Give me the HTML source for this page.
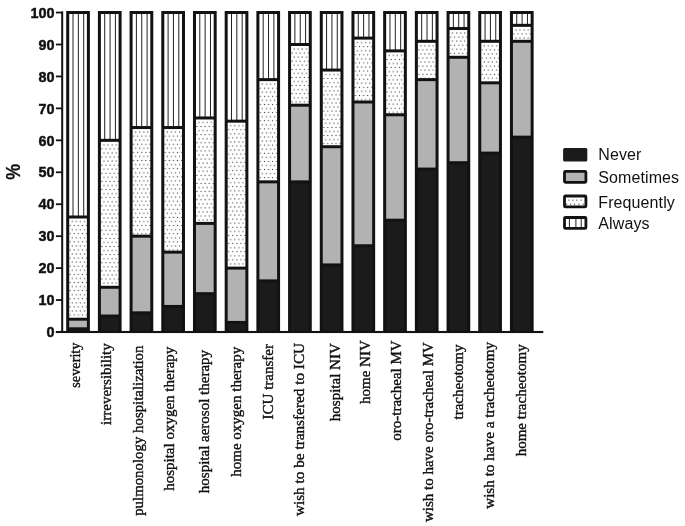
<!DOCTYPE html>
<html><head><meta charset="utf-8"><style>
html,body{margin:0;padding:0;background:#fff;}
body{width:685px;height:526px;overflow:hidden;}
svg{display:block;filter:grayscale(1);}
.yl{font-family:"Liberation Sans",sans-serif;font-weight:bold;font-size:15px;text-anchor:end;fill:#111;stroke:#111;stroke-width:0.45px;}
.xl{font-family:"Liberation Serif",serif;font-size:15px;text-anchor:middle;fill:#111;stroke:#111;stroke-width:0.4px;}
.pct{font-family:"Liberation Sans",sans-serif;font-weight:bold;font-size:21px;text-anchor:middle;fill:#111;stroke:#111;stroke-width:0.3px;}
.lg{font-family:"Liberation Sans",sans-serif;font-size:16px;fill:#111;letter-spacing:0.1px;}
</style></head><body>
<svg width="685" height="526" viewBox="0 0 685 526">
<defs><pattern id="d0" patternUnits="userSpaceOnUse" width="8.2" height="8.132" patternTransform="translate(78.35,221.5)"><rect x="1.525" y="-0.525" width="1.05" height="1.05" fill="#2a2a2a"/><rect x="5.625" y="-0.525" width="1.05" height="1.05" fill="#2a2a2a"/><rect x="1.525" y="7.607" width="1.05" height="1.05" fill="#2a2a2a"/><rect x="5.625" y="7.607" width="1.05" height="1.05" fill="#2a2a2a"/><rect x="-0.525" y="3.541" width="1.05" height="1.05" fill="#2a2a2a"/><rect x="7.675" y="3.541" width="1.05" height="1.05" fill="#2a2a2a"/><rect x="3.575" y="3.541" width="1.05" height="1.05" fill="#2a2a2a"/></pattern><pattern id="d1" patternUnits="userSpaceOnUse" width="8.2" height="8.132" patternTransform="translate(110.05,144.83)"><rect x="1.525" y="-0.525" width="1.05" height="1.05" fill="#2a2a2a"/><rect x="5.625" y="-0.525" width="1.05" height="1.05" fill="#2a2a2a"/><rect x="1.525" y="7.607" width="1.05" height="1.05" fill="#2a2a2a"/><rect x="5.625" y="7.607" width="1.05" height="1.05" fill="#2a2a2a"/><rect x="-0.525" y="3.541" width="1.05" height="1.05" fill="#2a2a2a"/><rect x="7.675" y="3.541" width="1.05" height="1.05" fill="#2a2a2a"/><rect x="3.575" y="3.541" width="1.05" height="1.05" fill="#2a2a2a"/></pattern><pattern id="d2" patternUnits="userSpaceOnUse" width="8.2" height="8.132" patternTransform="translate(141.74,132.05)"><rect x="1.525" y="-0.525" width="1.05" height="1.05" fill="#2a2a2a"/><rect x="5.625" y="-0.525" width="1.05" height="1.05" fill="#2a2a2a"/><rect x="1.525" y="7.607" width="1.05" height="1.05" fill="#2a2a2a"/><rect x="5.625" y="7.607" width="1.05" height="1.05" fill="#2a2a2a"/><rect x="-0.525" y="3.541" width="1.05" height="1.05" fill="#2a2a2a"/><rect x="7.675" y="3.541" width="1.05" height="1.05" fill="#2a2a2a"/><rect x="3.575" y="3.541" width="1.05" height="1.05" fill="#2a2a2a"/></pattern><pattern id="d3" patternUnits="userSpaceOnUse" width="8.2" height="8.132" patternTransform="translate(173.44,132.05)"><rect x="1.525" y="-0.525" width="1.05" height="1.05" fill="#2a2a2a"/><rect x="5.625" y="-0.525" width="1.05" height="1.05" fill="#2a2a2a"/><rect x="1.525" y="7.607" width="1.05" height="1.05" fill="#2a2a2a"/><rect x="5.625" y="7.607" width="1.05" height="1.05" fill="#2a2a2a"/><rect x="-0.525" y="3.541" width="1.05" height="1.05" fill="#2a2a2a"/><rect x="7.675" y="3.541" width="1.05" height="1.05" fill="#2a2a2a"/><rect x="3.575" y="3.541" width="1.05" height="1.05" fill="#2a2a2a"/></pattern><pattern id="d4" patternUnits="userSpaceOnUse" width="8.2" height="8.132" patternTransform="translate(205.13,122.47)"><rect x="1.525" y="-0.525" width="1.05" height="1.05" fill="#2a2a2a"/><rect x="5.625" y="-0.525" width="1.05" height="1.05" fill="#2a2a2a"/><rect x="1.525" y="7.607" width="1.05" height="1.05" fill="#2a2a2a"/><rect x="5.625" y="7.607" width="1.05" height="1.05" fill="#2a2a2a"/><rect x="-0.525" y="3.541" width="1.05" height="1.05" fill="#2a2a2a"/><rect x="7.675" y="3.541" width="1.05" height="1.05" fill="#2a2a2a"/><rect x="3.575" y="3.541" width="1.05" height="1.05" fill="#2a2a2a"/></pattern><pattern id="d5" patternUnits="userSpaceOnUse" width="8.2" height="8.132" patternTransform="translate(236.83,125.66)"><rect x="1.525" y="-0.525" width="1.05" height="1.05" fill="#2a2a2a"/><rect x="5.625" y="-0.525" width="1.05" height="1.05" fill="#2a2a2a"/><rect x="1.525" y="7.607" width="1.05" height="1.05" fill="#2a2a2a"/><rect x="5.625" y="7.607" width="1.05" height="1.05" fill="#2a2a2a"/><rect x="-0.525" y="3.541" width="1.05" height="1.05" fill="#2a2a2a"/><rect x="7.675" y="3.541" width="1.05" height="1.05" fill="#2a2a2a"/><rect x="3.575" y="3.541" width="1.05" height="1.05" fill="#2a2a2a"/></pattern><pattern id="d6" patternUnits="userSpaceOnUse" width="8.2" height="8.132" patternTransform="translate(268.53,84.13)"><rect x="1.525" y="-0.525" width="1.05" height="1.05" fill="#2a2a2a"/><rect x="5.625" y="-0.525" width="1.05" height="1.05" fill="#2a2a2a"/><rect x="1.525" y="7.607" width="1.05" height="1.05" fill="#2a2a2a"/><rect x="5.625" y="7.607" width="1.05" height="1.05" fill="#2a2a2a"/><rect x="-0.525" y="3.541" width="1.05" height="1.05" fill="#2a2a2a"/><rect x="7.675" y="3.541" width="1.05" height="1.05" fill="#2a2a2a"/><rect x="3.575" y="3.541" width="1.05" height="1.05" fill="#2a2a2a"/></pattern><pattern id="d7" patternUnits="userSpaceOnUse" width="8.2" height="8.132" patternTransform="translate(300.22,49)"><rect x="1.525" y="-0.525" width="1.05" height="1.05" fill="#2a2a2a"/><rect x="5.625" y="-0.525" width="1.05" height="1.05" fill="#2a2a2a"/><rect x="1.525" y="7.607" width="1.05" height="1.05" fill="#2a2a2a"/><rect x="5.625" y="7.607" width="1.05" height="1.05" fill="#2a2a2a"/><rect x="-0.525" y="3.541" width="1.05" height="1.05" fill="#2a2a2a"/><rect x="7.675" y="3.541" width="1.05" height="1.05" fill="#2a2a2a"/><rect x="3.575" y="3.541" width="1.05" height="1.05" fill="#2a2a2a"/></pattern><pattern id="d8" patternUnits="userSpaceOnUse" width="8.2" height="8.132" patternTransform="translate(331.92,74.55)"><rect x="1.525" y="-0.525" width="1.05" height="1.05" fill="#2a2a2a"/><rect x="5.625" y="-0.525" width="1.05" height="1.05" fill="#2a2a2a"/><rect x="1.525" y="7.607" width="1.05" height="1.05" fill="#2a2a2a"/><rect x="5.625" y="7.607" width="1.05" height="1.05" fill="#2a2a2a"/><rect x="-0.525" y="3.541" width="1.05" height="1.05" fill="#2a2a2a"/><rect x="7.675" y="3.541" width="1.05" height="1.05" fill="#2a2a2a"/><rect x="3.575" y="3.541" width="1.05" height="1.05" fill="#2a2a2a"/></pattern><pattern id="d9" patternUnits="userSpaceOnUse" width="8.2" height="8.132" patternTransform="translate(363.61,42.61)"><rect x="1.525" y="-0.525" width="1.05" height="1.05" fill="#2a2a2a"/><rect x="5.625" y="-0.525" width="1.05" height="1.05" fill="#2a2a2a"/><rect x="1.525" y="7.607" width="1.05" height="1.05" fill="#2a2a2a"/><rect x="5.625" y="7.607" width="1.05" height="1.05" fill="#2a2a2a"/><rect x="-0.525" y="3.541" width="1.05" height="1.05" fill="#2a2a2a"/><rect x="7.675" y="3.541" width="1.05" height="1.05" fill="#2a2a2a"/><rect x="3.575" y="3.541" width="1.05" height="1.05" fill="#2a2a2a"/></pattern><pattern id="d10" patternUnits="userSpaceOnUse" width="8.2" height="8.132" patternTransform="translate(395.31,55.38)"><rect x="1.525" y="-0.525" width="1.05" height="1.05" fill="#2a2a2a"/><rect x="5.625" y="-0.525" width="1.05" height="1.05" fill="#2a2a2a"/><rect x="1.525" y="7.607" width="1.05" height="1.05" fill="#2a2a2a"/><rect x="5.625" y="7.607" width="1.05" height="1.05" fill="#2a2a2a"/><rect x="-0.525" y="3.541" width="1.05" height="1.05" fill="#2a2a2a"/><rect x="7.675" y="3.541" width="1.05" height="1.05" fill="#2a2a2a"/><rect x="3.575" y="3.541" width="1.05" height="1.05" fill="#2a2a2a"/></pattern><pattern id="d11" patternUnits="userSpaceOnUse" width="8.2" height="8.132" patternTransform="translate(427.01,45.8)"><rect x="1.525" y="-0.525" width="1.05" height="1.05" fill="#2a2a2a"/><rect x="5.625" y="-0.525" width="1.05" height="1.05" fill="#2a2a2a"/><rect x="1.525" y="7.607" width="1.05" height="1.05" fill="#2a2a2a"/><rect x="5.625" y="7.607" width="1.05" height="1.05" fill="#2a2a2a"/><rect x="-0.525" y="3.541" width="1.05" height="1.05" fill="#2a2a2a"/><rect x="7.675" y="3.541" width="1.05" height="1.05" fill="#2a2a2a"/><rect x="3.575" y="3.541" width="1.05" height="1.05" fill="#2a2a2a"/></pattern><pattern id="d12" patternUnits="userSpaceOnUse" width="8.2" height="8.132" patternTransform="translate(458.7,33.02)"><rect x="1.525" y="-0.525" width="1.05" height="1.05" fill="#2a2a2a"/><rect x="5.625" y="-0.525" width="1.05" height="1.05" fill="#2a2a2a"/><rect x="1.525" y="7.607" width="1.05" height="1.05" fill="#2a2a2a"/><rect x="5.625" y="7.607" width="1.05" height="1.05" fill="#2a2a2a"/><rect x="-0.525" y="3.541" width="1.05" height="1.05" fill="#2a2a2a"/><rect x="7.675" y="3.541" width="1.05" height="1.05" fill="#2a2a2a"/><rect x="3.575" y="3.541" width="1.05" height="1.05" fill="#2a2a2a"/></pattern><pattern id="d13" patternUnits="userSpaceOnUse" width="8.2" height="8.132" patternTransform="translate(490.4,45.8)"><rect x="1.525" y="-0.525" width="1.05" height="1.05" fill="#2a2a2a"/><rect x="5.625" y="-0.525" width="1.05" height="1.05" fill="#2a2a2a"/><rect x="1.525" y="7.607" width="1.05" height="1.05" fill="#2a2a2a"/><rect x="5.625" y="7.607" width="1.05" height="1.05" fill="#2a2a2a"/><rect x="-0.525" y="3.541" width="1.05" height="1.05" fill="#2a2a2a"/><rect x="7.675" y="3.541" width="1.05" height="1.05" fill="#2a2a2a"/><rect x="3.575" y="3.541" width="1.05" height="1.05" fill="#2a2a2a"/></pattern><pattern id="d14" patternUnits="userSpaceOnUse" width="8.2" height="8.132" patternTransform="translate(522.09,29.83)"><rect x="1.525" y="-0.525" width="1.05" height="1.05" fill="#2a2a2a"/><rect x="5.625" y="-0.525" width="1.05" height="1.05" fill="#2a2a2a"/><rect x="1.525" y="7.607" width="1.05" height="1.05" fill="#2a2a2a"/><rect x="5.625" y="7.607" width="1.05" height="1.05" fill="#2a2a2a"/><rect x="-0.525" y="3.541" width="1.05" height="1.05" fill="#2a2a2a"/><rect x="7.675" y="3.541" width="1.05" height="1.05" fill="#2a2a2a"/><rect x="3.575" y="3.541" width="1.05" height="1.05" fill="#2a2a2a"/></pattern></defs>
<rect width="685" height="526" fill="#fff"/>
<rect x="61.2" y="11.4" width="2" height="321.6" fill="#121212"/>
<rect x="55.9" y="331.1" width="6.5" height="1.8" fill="#121212"/>
<text transform="translate(54.6,337.2) scale(0.96,1)" class="yl">0</text>
<rect x="55.9" y="299.16" width="6.5" height="1.8" fill="#121212"/>
<text transform="translate(54.6,305.25) scale(0.96,1)" class="yl">10</text>
<rect x="55.9" y="267.21" width="6.5" height="1.8" fill="#121212"/>
<text transform="translate(54.6,273.31) scale(0.96,1)" class="yl">20</text>
<rect x="55.9" y="235.27" width="6.5" height="1.8" fill="#121212"/>
<text transform="translate(54.6,241.37) scale(0.96,1)" class="yl">30</text>
<rect x="55.9" y="203.32" width="6.5" height="1.8" fill="#121212"/>
<text transform="translate(54.6,209.42) scale(0.96,1)" class="yl">40</text>
<rect x="55.9" y="171.38" width="6.5" height="1.8" fill="#121212"/>
<text transform="translate(54.6,177.47) scale(0.96,1)" class="yl">50</text>
<rect x="55.9" y="139.43" width="6.5" height="1.8" fill="#121212"/>
<text transform="translate(54.6,145.53) scale(0.96,1)" class="yl">60</text>
<rect x="55.9" y="107.48" width="6.5" height="1.8" fill="#121212"/>
<text transform="translate(54.6,113.58) scale(0.96,1)" class="yl">70</text>
<rect x="55.9" y="75.54" width="6.5" height="1.8" fill="#121212"/>
<text transform="translate(54.6,81.64) scale(0.96,1)" class="yl">80</text>
<rect x="55.9" y="43.6" width="6.5" height="1.8" fill="#121212"/>
<text transform="translate(54.6,49.7) scale(0.96,1)" class="yl">90</text>
<rect x="55.9" y="11.65" width="6.5" height="1.8" fill="#121212"/>
<text transform="translate(54.6,17.75) scale(0.96,1)" class="yl">100</text>
<rect x="67.7" y="328.81" width="20.7" height="3.19" fill="#1b1b1b"/>
<rect x="67.7" y="319.22" width="20.7" height="9.58" fill="#b2b2b2"/>
<rect x="67.7" y="217" width="20.7" height="102.22" fill="#fff"/>
<rect x="67.7" y="217" width="20.7" height="102.22" fill="url(#d0)"/>
<rect x="67.7" y="12.55" width="20.7" height="204.45" fill="#fff"/>
<rect x="72.5" y="12.55" width="1" height="204.45" fill="#222"/>
<rect x="77.85" y="12.55" width="1" height="204.45" fill="#222"/>
<rect x="83.2" y="12.55" width="1" height="204.45" fill="#222"/>
<rect x="67.7" y="327.31" width="20.7" height="3.0" fill="#121212"/>
<rect x="67.7" y="317.72" width="20.7" height="3.0" fill="#121212"/>
<rect x="67.7" y="215.5" width="20.7" height="3.0" fill="#121212"/>
<path d="M67.7,332V12.55H88.4V332" fill="none" stroke="#121212" stroke-width="3.0" stroke-linejoin="miter"/>
<text transform="translate(80.3,365.15) rotate(-90)" class="xl" style="font-size:14.3px">severity</text>
<rect x="99.4" y="316.03" width="20.7" height="15.97" fill="#1b1b1b"/>
<rect x="99.4" y="287.28" width="20.7" height="28.75" fill="#b2b2b2"/>
<rect x="99.4" y="140.33" width="20.7" height="146.95" fill="#fff"/>
<rect x="99.4" y="140.33" width="20.7" height="146.95" fill="url(#d1)"/>
<rect x="99.4" y="12.55" width="20.7" height="127.78" fill="#fff"/>
<rect x="104.2" y="12.55" width="1" height="127.78" fill="#222"/>
<rect x="109.55" y="12.55" width="1" height="127.78" fill="#222"/>
<rect x="114.9" y="12.55" width="1" height="127.78" fill="#222"/>
<rect x="99.4" y="314.53" width="20.7" height="3.0" fill="#121212"/>
<rect x="99.4" y="285.78" width="20.7" height="3.0" fill="#121212"/>
<rect x="99.4" y="138.83" width="20.7" height="3.0" fill="#121212"/>
<path d="M99.4,332V12.55H120.1V332" fill="none" stroke="#121212" stroke-width="3.0" stroke-linejoin="miter"/>
<text transform="translate(110.85,384.1) rotate(-90)" class="xl" style="font-size:15px">irreversibility</text>
<rect x="131.09" y="312.83" width="20.7" height="19.17" fill="#1b1b1b"/>
<rect x="131.09" y="236.17" width="20.7" height="76.67" fill="#b2b2b2"/>
<rect x="131.09" y="127.55" width="20.7" height="108.61" fill="#fff"/>
<rect x="131.09" y="127.55" width="20.7" height="108.61" fill="url(#d2)"/>
<rect x="131.09" y="12.55" width="20.7" height="115" fill="#fff"/>
<rect x="135.89" y="12.55" width="1" height="115" fill="#222"/>
<rect x="141.24" y="12.55" width="1" height="115" fill="#222"/>
<rect x="146.59" y="12.55" width="1" height="115" fill="#222"/>
<rect x="131.09" y="311.33" width="20.7" height="3.0" fill="#121212"/>
<rect x="131.09" y="234.67" width="20.7" height="3.0" fill="#121212"/>
<rect x="131.09" y="126.05" width="20.7" height="3.0" fill="#121212"/>
<path d="M131.09,332V12.55H151.79V332" fill="none" stroke="#121212" stroke-width="3.0" stroke-linejoin="miter"/>
<text transform="translate(143.1,430.7) rotate(-90)" class="xl" style="font-size:14.85px">pulmonology hospitalization</text>
<rect x="162.79" y="306.44" width="20.7" height="25.56" fill="#1b1b1b"/>
<rect x="162.79" y="252.14" width="20.7" height="54.31" fill="#b2b2b2"/>
<rect x="162.79" y="127.55" width="20.7" height="124.59" fill="#fff"/>
<rect x="162.79" y="127.55" width="20.7" height="124.59" fill="url(#d3)"/>
<rect x="162.79" y="12.55" width="20.7" height="115" fill="#fff"/>
<rect x="167.59" y="12.55" width="1" height="115" fill="#222"/>
<rect x="172.94" y="12.55" width="1" height="115" fill="#222"/>
<rect x="178.29" y="12.55" width="1" height="115" fill="#222"/>
<rect x="162.79" y="304.94" width="20.7" height="3.0" fill="#121212"/>
<rect x="162.79" y="250.64" width="20.7" height="3.0" fill="#121212"/>
<rect x="162.79" y="126.05" width="20.7" height="3.0" fill="#121212"/>
<path d="M162.79,332V12.55H183.49V332" fill="none" stroke="#121212" stroke-width="3.0" stroke-linejoin="miter"/>
<text transform="translate(173.9,418.75) rotate(-90)" class="xl" style="font-size:15px">hospital oxygen therapy</text>
<rect x="194.48" y="293.67" width="20.7" height="38.33" fill="#1b1b1b"/>
<rect x="194.48" y="223.39" width="20.7" height="70.28" fill="#b2b2b2"/>
<rect x="194.48" y="117.97" width="20.7" height="105.42" fill="#fff"/>
<rect x="194.48" y="117.97" width="20.7" height="105.42" fill="url(#d4)"/>
<rect x="194.48" y="12.55" width="20.7" height="105.42" fill="#fff"/>
<rect x="199.28" y="12.55" width="1" height="105.42" fill="#222"/>
<rect x="204.63" y="12.55" width="1" height="105.42" fill="#222"/>
<rect x="209.98" y="12.55" width="1" height="105.42" fill="#222"/>
<rect x="194.48" y="292.17" width="20.7" height="3.0" fill="#121212"/>
<rect x="194.48" y="221.89" width="20.7" height="3.0" fill="#121212"/>
<rect x="194.48" y="116.47" width="20.7" height="3.0" fill="#121212"/>
<path d="M194.48,332V12.55H215.18V332" fill="none" stroke="#121212" stroke-width="3.0" stroke-linejoin="miter"/>
<text transform="translate(209,421.55) rotate(-90)" class="xl" style="font-size:15px">hospital aerosol therapy</text>
<rect x="226.18" y="322.42" width="20.7" height="9.58" fill="#1b1b1b"/>
<rect x="226.18" y="268.11" width="20.7" height="54.31" fill="#b2b2b2"/>
<rect x="226.18" y="121.16" width="20.7" height="146.95" fill="#fff"/>
<rect x="226.18" y="121.16" width="20.7" height="146.95" fill="url(#d5)"/>
<rect x="226.18" y="12.55" width="20.7" height="108.61" fill="#fff"/>
<rect x="230.98" y="12.55" width="1" height="108.61" fill="#222"/>
<rect x="236.33" y="12.55" width="1" height="108.61" fill="#222"/>
<rect x="241.68" y="12.55" width="1" height="108.61" fill="#222"/>
<rect x="226.18" y="320.92" width="20.7" height="3.0" fill="#121212"/>
<rect x="226.18" y="266.61" width="20.7" height="3.0" fill="#121212"/>
<rect x="226.18" y="119.66" width="20.7" height="3.0" fill="#121212"/>
<path d="M226.18,332V12.55H246.88V332" fill="none" stroke="#121212" stroke-width="3.0" stroke-linejoin="miter"/>
<text transform="translate(240.5,411.75) rotate(-90)" class="xl" style="font-size:15px">home oxygen therapy</text>
<rect x="257.88" y="280.89" width="20.7" height="51.11" fill="#1b1b1b"/>
<rect x="257.88" y="181.86" width="20.7" height="99.03" fill="#b2b2b2"/>
<rect x="257.88" y="79.63" width="20.7" height="102.22" fill="#fff"/>
<rect x="257.88" y="79.63" width="20.7" height="102.22" fill="url(#d6)"/>
<rect x="257.88" y="12.55" width="20.7" height="67.08" fill="#fff"/>
<rect x="262.68" y="12.55" width="1" height="67.08" fill="#222"/>
<rect x="268.03" y="12.55" width="1" height="67.08" fill="#222"/>
<rect x="273.38" y="12.55" width="1" height="67.08" fill="#222"/>
<rect x="257.88" y="279.39" width="20.7" height="3.0" fill="#121212"/>
<rect x="257.88" y="180.36" width="20.7" height="3.0" fill="#121212"/>
<rect x="257.88" y="78.13" width="20.7" height="3.0" fill="#121212"/>
<path d="M257.88,332V12.55H278.58V332" fill="none" stroke="#121212" stroke-width="3.0" stroke-linejoin="miter"/>
<text transform="translate(272.7,381.75) rotate(-90)" class="xl" style="font-size:15px">ICU transfer</text>
<rect x="289.57" y="181.86" width="20.7" height="150.14" fill="#1b1b1b"/>
<rect x="289.57" y="105.19" width="20.7" height="76.67" fill="#b2b2b2"/>
<rect x="289.57" y="44.5" width="20.7" height="60.7" fill="#fff"/>
<rect x="289.57" y="44.5" width="20.7" height="60.7" fill="url(#d7)"/>
<rect x="289.57" y="12.55" width="20.7" height="31.94" fill="#fff"/>
<rect x="294.37" y="12.55" width="1" height="31.94" fill="#222"/>
<rect x="299.72" y="12.55" width="1" height="31.94" fill="#222"/>
<rect x="305.07" y="12.55" width="1" height="31.94" fill="#222"/>
<rect x="289.57" y="180.36" width="20.7" height="3.0" fill="#121212"/>
<rect x="289.57" y="103.69" width="20.7" height="3.0" fill="#121212"/>
<rect x="289.57" y="43" width="20.7" height="3.0" fill="#121212"/>
<path d="M289.57,332V12.55H310.27V332" fill="none" stroke="#121212" stroke-width="3.0" stroke-linejoin="miter"/>
<text transform="translate(304.25,429.5) rotate(-90)" class="xl" style="font-size:15.25px">wish to be transfered to ICU</text>
<rect x="321.27" y="264.92" width="20.7" height="67.08" fill="#1b1b1b"/>
<rect x="321.27" y="146.72" width="20.7" height="118.2" fill="#b2b2b2"/>
<rect x="321.27" y="70.05" width="20.7" height="76.67" fill="#fff"/>
<rect x="321.27" y="70.05" width="20.7" height="76.67" fill="url(#d8)"/>
<rect x="321.27" y="12.55" width="20.7" height="57.5" fill="#fff"/>
<rect x="326.07" y="12.55" width="1" height="57.5" fill="#222"/>
<rect x="331.42" y="12.55" width="1" height="57.5" fill="#222"/>
<rect x="336.77" y="12.55" width="1" height="57.5" fill="#222"/>
<rect x="321.27" y="263.42" width="20.7" height="3.0" fill="#121212"/>
<rect x="321.27" y="145.22" width="20.7" height="3.0" fill="#121212"/>
<rect x="321.27" y="68.55" width="20.7" height="3.0" fill="#121212"/>
<path d="M321.27,332V12.55H341.97V332" fill="none" stroke="#121212" stroke-width="3.0" stroke-linejoin="miter"/>
<text transform="translate(339.6,382.2) rotate(-90)" class="xl" style="font-size:15px">hospital NIV</text>
<rect x="352.96" y="245.75" width="20.7" height="86.25" fill="#1b1b1b"/>
<rect x="352.96" y="102" width="20.7" height="143.75" fill="#b2b2b2"/>
<rect x="352.96" y="38.11" width="20.7" height="63.89" fill="#fff"/>
<rect x="352.96" y="38.11" width="20.7" height="63.89" fill="url(#d9)"/>
<rect x="352.96" y="12.55" width="20.7" height="25.56" fill="#fff"/>
<rect x="357.76" y="12.55" width="1" height="25.56" fill="#222"/>
<rect x="363.11" y="12.55" width="1" height="25.56" fill="#222"/>
<rect x="368.46" y="12.55" width="1" height="25.56" fill="#222"/>
<rect x="352.96" y="244.25" width="20.7" height="3.0" fill="#121212"/>
<rect x="352.96" y="100.5" width="20.7" height="3.0" fill="#121212"/>
<rect x="352.96" y="36.61" width="20.7" height="3.0" fill="#121212"/>
<path d="M352.96,332V12.55H373.66V332" fill="none" stroke="#121212" stroke-width="3.0" stroke-linejoin="miter"/>
<text transform="translate(370.4,372.15) rotate(-90)" class="xl" style="font-size:15px">home NIV</text>
<rect x="384.66" y="220.19" width="20.7" height="111.81" fill="#1b1b1b"/>
<rect x="384.66" y="114.77" width="20.7" height="105.42" fill="#b2b2b2"/>
<rect x="384.66" y="50.88" width="20.7" height="63.89" fill="#fff"/>
<rect x="384.66" y="50.88" width="20.7" height="63.89" fill="url(#d10)"/>
<rect x="384.66" y="12.55" width="20.7" height="38.33" fill="#fff"/>
<rect x="389.46" y="12.55" width="1" height="38.33" fill="#222"/>
<rect x="394.81" y="12.55" width="1" height="38.33" fill="#222"/>
<rect x="400.16" y="12.55" width="1" height="38.33" fill="#222"/>
<rect x="384.66" y="218.69" width="20.7" height="3.0" fill="#121212"/>
<rect x="384.66" y="113.27" width="20.7" height="3.0" fill="#121212"/>
<rect x="384.66" y="49.38" width="20.7" height="3.0" fill="#121212"/>
<path d="M384.66,332V12.55H405.36V332" fill="none" stroke="#121212" stroke-width="3.0" stroke-linejoin="miter"/>
<text transform="translate(401,390.55) rotate(-90)" class="xl" style="font-size:15px">oro-tracheal MV</text>
<rect x="416.36" y="169.08" width="20.7" height="162.92" fill="#1b1b1b"/>
<rect x="416.36" y="79.63" width="20.7" height="89.45" fill="#b2b2b2"/>
<rect x="416.36" y="41.3" width="20.7" height="38.33" fill="#fff"/>
<rect x="416.36" y="41.3" width="20.7" height="38.33" fill="url(#d11)"/>
<rect x="416.36" y="12.55" width="20.7" height="28.75" fill="#fff"/>
<rect x="421.16" y="12.55" width="1" height="28.75" fill="#222"/>
<rect x="426.51" y="12.55" width="1" height="28.75" fill="#222"/>
<rect x="431.86" y="12.55" width="1" height="28.75" fill="#222"/>
<rect x="416.36" y="167.58" width="20.7" height="3.0" fill="#121212"/>
<rect x="416.36" y="78.13" width="20.7" height="3.0" fill="#121212"/>
<rect x="416.36" y="39.8" width="20.7" height="3.0" fill="#121212"/>
<path d="M416.36,332V12.55H437.06V332" fill="none" stroke="#121212" stroke-width="3.0" stroke-linejoin="miter"/>
<text transform="translate(432.5,432.15) rotate(-90)" class="xl" style="font-size:15px">wish to have oro-tracheal MV</text>
<rect x="448.05" y="162.69" width="20.7" height="169.31" fill="#1b1b1b"/>
<rect x="448.05" y="57.27" width="20.7" height="105.42" fill="#b2b2b2"/>
<rect x="448.05" y="28.52" width="20.7" height="28.75" fill="#fff"/>
<rect x="448.05" y="28.52" width="20.7" height="28.75" fill="url(#d12)"/>
<rect x="448.05" y="12.55" width="20.7" height="15.97" fill="#fff"/>
<rect x="452.85" y="12.55" width="1" height="15.97" fill="#222"/>
<rect x="458.2" y="12.55" width="1" height="15.97" fill="#222"/>
<rect x="463.55" y="12.55" width="1" height="15.97" fill="#222"/>
<rect x="448.05" y="161.19" width="20.7" height="3.0" fill="#121212"/>
<rect x="448.05" y="55.77" width="20.7" height="3.0" fill="#121212"/>
<rect x="448.05" y="27.02" width="20.7" height="3.0" fill="#121212"/>
<path d="M448.05,332V12.55H468.75V332" fill="none" stroke="#121212" stroke-width="3.0" stroke-linejoin="miter"/>
<text transform="translate(462.8,382) rotate(-90)" class="xl" style="font-size:15px">tracheotomy</text>
<rect x="479.75" y="153.11" width="20.7" height="178.89" fill="#1b1b1b"/>
<rect x="479.75" y="82.83" width="20.7" height="70.28" fill="#b2b2b2"/>
<rect x="479.75" y="41.3" width="20.7" height="41.53" fill="#fff"/>
<rect x="479.75" y="41.3" width="20.7" height="41.53" fill="url(#d13)"/>
<rect x="479.75" y="12.55" width="20.7" height="28.75" fill="#fff"/>
<rect x="484.55" y="12.55" width="1" height="28.75" fill="#222"/>
<rect x="489.9" y="12.55" width="1" height="28.75" fill="#222"/>
<rect x="495.25" y="12.55" width="1" height="28.75" fill="#222"/>
<rect x="479.75" y="151.61" width="20.7" height="3.0" fill="#121212"/>
<rect x="479.75" y="81.33" width="20.7" height="3.0" fill="#121212"/>
<rect x="479.75" y="39.8" width="20.7" height="3.0" fill="#121212"/>
<path d="M479.75,332V12.55H500.45V332" fill="none" stroke="#121212" stroke-width="3.0" stroke-linejoin="miter"/>
<text transform="translate(494.35,425.4) rotate(-90)" class="xl" style="font-size:15.18px">wish to have a tracheotomy</text>
<rect x="511.44" y="137.14" width="20.7" height="194.86" fill="#1b1b1b"/>
<rect x="511.44" y="41.3" width="20.7" height="95.83" fill="#b2b2b2"/>
<rect x="511.44" y="25.33" width="20.7" height="15.97" fill="#fff"/>
<rect x="511.44" y="25.33" width="20.7" height="15.97" fill="url(#d14)"/>
<rect x="511.44" y="12.55" width="20.7" height="12.78" fill="#fff"/>
<rect x="516.24" y="12.55" width="1" height="12.78" fill="#222"/>
<rect x="521.59" y="12.55" width="1" height="12.78" fill="#222"/>
<rect x="526.94" y="12.55" width="1" height="12.78" fill="#222"/>
<rect x="511.44" y="135.64" width="20.7" height="3.0" fill="#121212"/>
<rect x="511.44" y="39.8" width="20.7" height="3.0" fill="#121212"/>
<rect x="511.44" y="23.83" width="20.7" height="3.0" fill="#121212"/>
<path d="M511.44,332V12.55H532.14V332" fill="none" stroke="#121212" stroke-width="3.0" stroke-linejoin="miter"/>
<text transform="translate(525.9,400.35) rotate(-90)" class="xl" style="font-size:15px">home tracheotomy</text>
<rect x="55.9" y="330.95" width="487.4" height="2.1" fill="#121212"/>
<text transform="translate(20.1,171.9) rotate(-90) scale(0.85,1)" class="pct">%</text>
<rect x="563.1" y="147.9" width="24.2" height="13.7" rx="1.5" fill="#1b1b1b"/>
<text x="598.3" y="159.8" class="lg">Never</text>
<rect x="564.5" y="171.4" width="21.4" height="10.9" rx="1" fill="#b2b2b2" stroke="#121212" stroke-width="2.8"/>
<text x="598.3" y="182.7" class="lg">Sometimes</text>
<rect x="564.5" y="196" width="21.4" height="10.9" rx="1" fill="#fff" stroke="#121212" stroke-width="2.8"/>
<rect x="568.3" y="199.6" width="1.05" height="1.05" fill="#2a2a2a"/>
<rect x="572.3" y="199.6" width="1.05" height="1.05" fill="#2a2a2a"/>
<rect x="576.2" y="199.6" width="1.05" height="1.05" fill="#2a2a2a"/>
<rect x="580.6" y="199.6" width="1.05" height="1.05" fill="#2a2a2a"/>
<rect x="566.1" y="203.7" width="1.05" height="1.05" fill="#2a2a2a"/>
<rect x="570.1" y="203.7" width="1.05" height="1.05" fill="#2a2a2a"/>
<rect x="574" y="203.7" width="1.05" height="1.05" fill="#2a2a2a"/>
<rect x="578.4" y="203.7" width="1.05" height="1.05" fill="#2a2a2a"/>
<rect x="582.7" y="203.7" width="1.05" height="1.05" fill="#2a2a2a"/>
<text x="598.3" y="208.1" class="lg">Frequently</text>
<rect x="564.5" y="217.5" width="21.4" height="10.9" rx="1" fill="#fff" stroke="#121212" stroke-width="2.8"/>
<rect x="568.9" y="218.9" width="1" height="8.1" fill="#222"/>
<rect x="575.4" y="218.9" width="1" height="8.1" fill="#222"/>
<rect x="580.7" y="218.9" width="1" height="8.1" fill="#222"/>
<text x="598.3" y="229.3" class="lg">Always</text>
</svg>
</body></html>
